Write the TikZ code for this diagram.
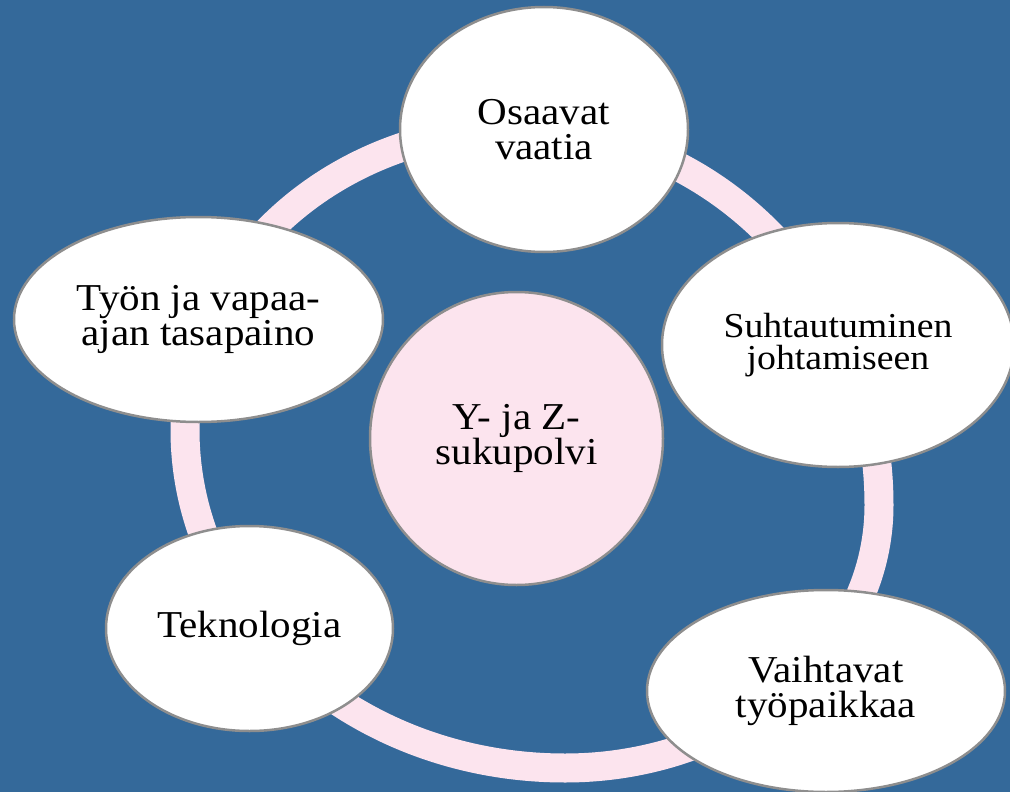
\documentclass[tikz,border=0pt]{standalone}
\usepackage{fontspec}
\setmainfont{Liberation Serif}[FakeStretch=1.08]
\usetikzlibrary{shapes.geometric}
\definecolor{bgblue}{RGB}{52,105,154}
\definecolor{ringpink}{RGB}{252,228,238}
\definecolor{edgegray}{RGB}{142,142,142}
\begin{document}
\begin{tikzpicture}[x=1pt,y=-1pt,
  sat/.style={ellipse, draw=edgegray, line width=2.5pt, fill=white, inner sep=0pt,
    align=center, font=\fontsize{38}{35}\selectfont},
  hub/.style={circle, draw=edgegray, line width=2.5pt, fill=ringpink, inner sep=0pt,
    align=center, font=\fontsize{38}{35}\selectfont},
  ring/.style={draw=ringpink, line width=29pt}]
\fill[bgblue] (0,0) rectangle (1010,792);
\useasboundingbox (0,0) rectangle (1010,792);
% ring
\coordinate (rl) at (185,430);
\coordinate (rt) at (520,128);
\coordinate (rr) at (879,505);
\coordinate (rb) at (565,768);
\draw[ring] (rl) .. controls (185,263) and (335,128) .. (rt)
  .. controls (718,128) and (879,297) .. (rr)
  .. controls (879,655) and (735,768) .. (rb)
  .. controls (355,768) and (185,617) .. cycle;
% centre
\node[hub, minimum size=293pt] (hub) at (516.5,438.5) {Y- ja Z-\\sukupolvi};
% satellites
\node[sat, minimum width=288pt, minimum height=245pt] (osaavat) at (544,129.5) {Osaavat\\vaatia};
\node[sat, minimum width=352pt, minimum height=244pt, font=\fontsize{35}{32}\selectfont] (suht) at (838,345) {Suhtautuminen\\johtamiseen};
\node[sat, minimum width=358pt, minimum height=202pt] (vaiht) at (826,691) {Vaihtavat\\työpaikkaa};
\node[sat, minimum width=287pt, minimum height=205pt] (tekno) at (249.5,628.5) {Teknologia};
\node[sat, minimum width=369pt, minimum height=205pt] (tyon) at (198.5,319.5) {Työn ja vapaa-\\ajan tasapaino};
\end{tikzpicture}
\end{document}
